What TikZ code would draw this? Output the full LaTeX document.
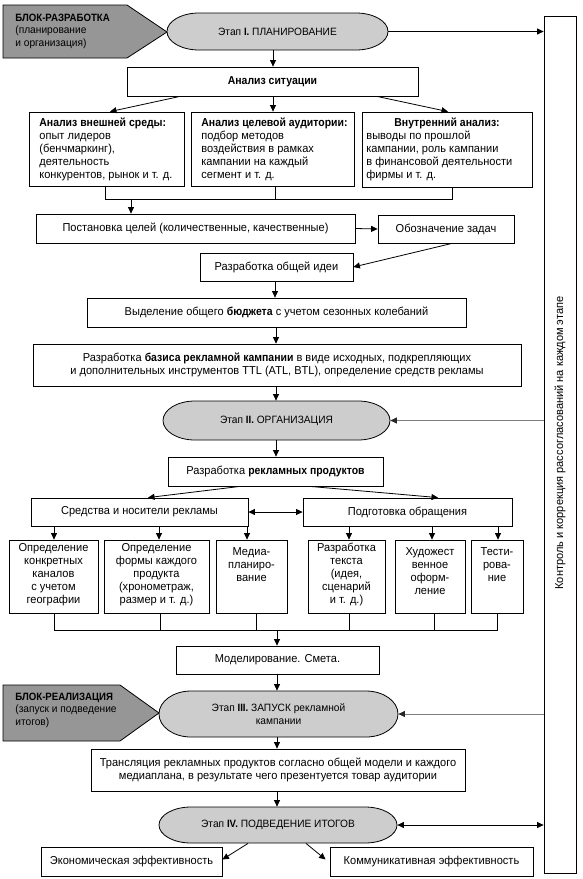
\documentclass[tikz,border=0pt]{standalone}
\usepackage{fontspec}
\setmainfont{Liberation Sans}[FakeStretch=0.96,BoldFeatures={FakeStretch=0.91}]
\usetikzlibrary{arrows.meta,calc}
\definecolor{blkfill}{RGB}{150,150,150}
\definecolor{stfill}{RGB}{205,205,205}
\definecolor{lgray}{RGB}{125,125,125}
\newcommand\fnorm{\fontsize{11.5}{13}\selectfont}
\newcommand\fstage{\fontsize{10.6}{13}\selectfont}
\newcommand\fblk{\fontsize{10.6}{12.5}\selectfont}
\newcommand\fctrl{\fontsize{11.5}{14}\selectfont}
% box by corners: [opts]{x1}{y1}{x2}{y2}{name}{text}
\newcommand\pbox[7][]{\node[box,minimum width={(#4-#2)*1pt},minimum height={(#5-#3)*1pt},#1] (#6) at ({(#2+#4)/2},{(#3+#5)/2}) {#7};}
% stage shape: {name}{x1}{y1}{x2}{y2}{text}
\newcommand\stagebox[6]{%
  \draw[fill=stfill] ({#2+32},#3) -- ({#4-32},#3)
    arc[start angle=90,end angle=-90,x radius=32pt,y radius={((#5-#3)/2)*1pt}]
    -- ({#2+32},#5)
    arc[start angle=270,end angle=90,x radius=32pt,y radius={((#5-#3)/2)*1pt}] -- cycle;
  \node[stagetxt,minimum width={(#4-#2)*1pt},minimum height={(#5-#3)*1pt}] (#1) at ({(#2+#4)/2},{(#3+#5)/2}) {#6};}
\begin{document}
\begin{tikzpicture}[x=1pt,y=-1pt,line width=0.8pt,
  arr/.style={-{Triangle[length=6.5pt,width=6pt]}},
  darr/.style={{Triangle[length=6.5pt,width=6pt]}-{Triangle[length=6.5pt,width=6pt]}},
  garr/.style={draw=lgray,-{Triangle[length=6.5pt,width=6pt,color=black!85]}},
  box/.style={draw,inner sep=0pt,font=\fnorm,align=center},
  txt/.style={inner sep=0pt,font=\fnorm},
  stagetxt/.style={inner sep=0pt,font=\fstage,align=center},
  blktxt/.style={inner sep=0pt,font=\fblk,align=left,anchor=west},
  blkshape/.style={draw,fill=blkfill}]
\useasboundingbox[fill=white] (0,0) rectangle (582,879);

% ---- side blocks
\draw[blkshape] (3,5) -- (127,5) -- (167,32) -- (127,58) -- (3,58) -- cycle;
\node[blktxt] (blk1) at (15,31) {\textbf{БЛОК-РАЗРАБОТКА}\\(планирование\\и организация)};
\draw[blkshape] (3,685) -- (120,685) -- (159,713) -- (120,741) -- (3,741) -- cycle;
\node[blktxt] (blk2) at (15,710) {\textbf{БЛОК-РЕАЛИЗАЦИЯ}\\(запуск и подведение\\итогов)};

% ---- control box
\pbox{544}{16}{576}{873}{ctrl}{}
\node[txt,rotate=90,font=\fctrl] (ctrlt) at (560,443) {Контроль и коррекция рассогласований на каждом этапе};

% ---- stage I
\stagebox{st1}{167}{13}{388}{50}{Этап \textbf{I.} ПЛАНИРОВАНИЕ}
\pbox{127}{67}{418}{96}{sit}{\textbf{Анализ ситуации}}
\pbox{29}{112}{184}{186}{a1}{}
\node[txt,align=left,anchor=north west] (a1t) at (39,118) {\textbf{Анализ внешней среды:}\\опыт лидеров\\(бенчмаркинг),\\деятельность\\конкурентов, рынок и т. д.};
\pbox{191}{112}{354}{186}{a2}{}
\node[txt,align=left,anchor=north west] (a2t) at (201,118) {\textbf{Анализ целевой аудитории:}\\подбор методов\\воздействия в рамках\\кампании на каждый\\сегмент и т. д.};
\pbox{362}{112}{532}{187}{a3}{}
\node[txt,align=left,anchor=north west] (a3t) at (366,118) {\hspace*{28pt}\textbf{Внутренний анализ:}\\выводы по прошлой\\кампании, роль кампании\\в финансовой деятельности\\фирмы и т. д.};
\pbox{36}{214}{355}{243}{goal}{Постановка целей (количественные, качественные)}
\pbox{378}{215}{514}{243}{task}{Обозначение задач}
\pbox{200}{253}{353}{281}{idea}{Разработка общей идеи}
\pbox{87}{298}{466}{327}{budget}{Выделение общего \textbf{бюджета} с учетом сезонных колебаний}
\pbox{33}{344}{521}{386}{basis}{Разработка \textbf{базиса рекламной кампании} в виде исходных, подкрепляющих\\и дополнительных инструментов TTL (ATL, BTL), определение средств рекламы}

% ---- stage II
\stagebox{st2}{163}{401}{390}{440}{Этап \textbf{II.} ОРГАНИЗАЦИЯ}
\pbox{168}{457}{383}{486}{prod}{Разработка \textbf{рекламных продуктов}}
\pbox{31}{498}{248}{526}{media}{Средства и носители рекламы}
\pbox{303}{498}{512}{526}{msg}{Подготовка обращения}
\pbox{9}{540}{98}{613}{b1}{}
\pbox{104}{540}{209}{613}{b2}{}
\pbox{216}{540}{287}{613}{b3}{}
\pbox{308}{540}{385}{613}{b4}{}
\pbox{395}{540}{465}{613}{b5}{}
\pbox{471}{540}{523}{613}{b6}{}
\node[txt,align=center,anchor=north] (b1t) at (b1.north) [yshift=-3pt] {Определение\\конкретных\\каналов\\с учетом\\географии};
\node[txt,align=center,anchor=north] (b2t) at (b2.north) [yshift=-3pt] {Определение\\формы каждого\\продукта\\(хронометраж,\\размер и т. д.)};
\node[txt,align=center,anchor=north] (b3t) at (b3.north) [yshift=-8pt] {Медиа-\\планиро-\\вание};
\node[txt,align=center,anchor=north] (b4t) at (b4.north) [yshift=-3pt] {Разработка\\текста\\(идея,\\сценарий\\и т. д.)};
\node[txt,align=center,anchor=north] (b5t) at (b5.north) [yshift=-8pt] {Художест\\венное\\оформ-\\ление};
\node[txt,align=center,anchor=north] (b6t) at (b6.north) [yshift=-8pt] {Тести-\\рова-\\ние};
\pbox{176}{646}{379}{674}{model}{Моделирование. Смета.}

% ---- stage III, IV
\stagebox{st3}{159}{691}{398}{737}{Этап \textbf{III.} ЗАПУСК рекламной\\кампании}
\pbox{91}{749}{465}{791}{trans}{Трансляция рекламных продуктов согласно общей модели и каждого\\медиаплана, в результате чего презентуется товар аудитории}
\stagebox{st4}{159}{807}{397}{843}{Этап \textbf{IV.} ПОДВЕДЕНИЕ ИТОГОВ}
\pbox{41}{847}{222}{876}{econ}{Экономическая эффективность}
\pbox{330}{847}{533}{876}{comm}{Коммуникативная эффективность}

% ---- connectors
\coordinate (abus) at (131,199);
\coordinate (bbus) at (277,630);
\draw[arr] (273,0 |- st1.south) -- (273,0 |- sit.north);
\draw[arr] (180,0 |- sit.south) -- (110,0 |- a1.north);
\draw[arr] (273,0 |- sit.south) -- (273,0 |- a2.north);
\draw[arr] (377,0 |- sit.south) -- (448,0 |- a3.north);
\draw (105,0 |- a1.south) -- (105,0 |- abus) -- (452,0 |- abus) -- (452,0 |- a3.south);
\draw (275,0 |- a2.south) -- (275,0 |- abus);
\draw[arr] (abus) -- (abus |- goal.north);
\draw[arr] (goal.east) -- (task.west);
\draw[arr] (452,0 |- task.south) -- (idea.east);
\draw[arr] (275,0 |- idea.south) -- (275,0 |- budget.north);
\draw[arr] (276,0 |- budget.south) -- (276,0 |- basis.north);
\draw[arr] (276,0 |- basis.south) -- (276,0 |- st2.north);
\draw[arr] (276,0 |- st2.south) -- (276,0 |- prod.north);
\draw[arr] (240,0 |- prod.south) -- (148,0 |- media.north);
\draw[arr] (310,0 |- prod.south) -- (438,0 |- msg.north);
\draw[darr] (media.east) -- (msg.west);
\draw[arr] (54,0 |- media.south) -- (54,0 |- b1.north);
\draw[arr] (159,0 |- media.south) -- (159,0 |- b2.north);
\draw[arr] (247,0 |- media.south) -- (247,0 |- b3.north);
\draw[arr] (349,0 |- msg.south) -- (349,0 |- b4.north);
\draw[arr] (432,0 |- msg.south) -- (432,0 |- b5.north);
\draw[arr] (498,0 |- msg.south) -- (498,0 |- b6.north);
\draw (54,0 |- b1.south) -- (54,0 |- bbus) -- (497,0 |- bbus) -- (497,0 |- b6.south);
\draw (160,0 |- b2.south) -- (160,0 |- bbus);
\draw (256,0 |- b3.south) -- (256,0 |- bbus);
\draw (349,0 |- b4.south) -- (349,0 |- bbus);
\draw (434,0 |- b5.south) -- (434,0 |- bbus);
\draw[arr] (bbus) -- (bbus |- model.north);
\draw[arr] (277,0 |- model.south) -- (277,0 |- st3.north);
\draw[arr] (277,0 |- st3.south) -- (277,0 |- trans.north);
\draw[arr] (277,0 |- trans.south) -- (277,0 |- st4.north);
\draw[arr] (248,0 |- st4.south) -- ([yshift=2pt]econ.east);
\draw[arr] (306,0 |- st4.south) -- ([xshift=-4pt,yshift=2pt]comm.west);
\draw[arr] (st1.east) -- (st1.east -| ctrl.west);
\draw[garr] (st2.east -| ctrl.west) -- (st2.east);
\draw[garr] (st3.east -| ctrl.west) -- (st3.east);
\draw[darr] (st4.east) -- (st4.east -| ctrl.west);
\end{tikzpicture}
\end{document}
